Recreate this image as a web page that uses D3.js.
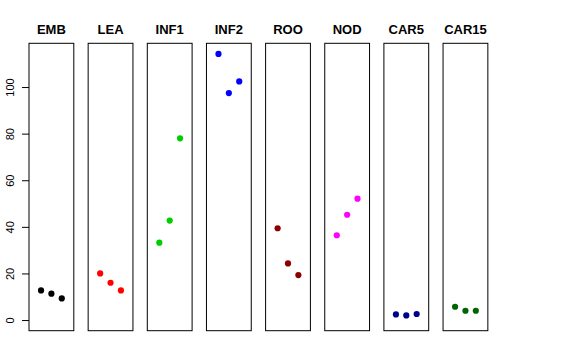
<!DOCTYPE html>
<html><head><meta charset="utf-8">
<script src="https://cdn.jsdelivr.net/npm/d3@7"></script>
<style>body{margin:0;background:#fff}svg{display:block}</style>
</head><body>
<script>
const categories = ["EMB","LEA","INF1","INF2","ROO","NOD","CAR5","CAR15"];
const colors = ["#000000","#FF0000","#00CD00","#0000FF","#8B0000","#FF00FF","#00008B","#006400"];
const emb = [12.7, 11.3, 9.3];
const lea = [20.0, 16.0, 12.7];
const inf1 = [33.2, 42.7, 78.0];
const inf2 = [114.2, 97.4, 102.4];
const roo = [39.4, 24.3, 19.3];
const nod = [36.4, 45.2, 52.1];
const car5 = [2.4, 2.0, 2.6];
const car15 = [5.7, 4.0, 4.0];
const seriesValues = [emb, lea, inf1, inf2, roo, nod, car5, car15];
const yTicks = [0, 20, 40, 60, 80, 100];

(function(){
const W = 576, H = 360;
const svg = d3.select("body").append("svg").attr("width", W).attr("height", H);
const font = "Liberation Sans, Arial, Helvetica, sans-serif";

const pTop = 43.3, pBottom = 330.7;
const panelW = 44.8, stride = 59.15, left0 = 29;
const ymax = d3.max(seriesValues.flat());
const ext = 0.04 * ymax;
const y = d3.scaleLinear().domain([0 - ext, ymax + ext]).range([pBottom, pTop]);
const x = d3.scaleLinear().domain([-0.16, 4.16]).range([0, panelW]);

categories.forEach((cat, i) => {
  const gx = left0 + i * stride;
  const g = svg.append("g").attr("transform", `translate(${gx},0)`);
  g.selectAll("circle").data(seriesValues[i]).enter().append("circle")
    .attr("cx", (d, j) => x(j + 1)).attr("cy", d => y(d)).attr("r", 3.1)
    .attr("fill", colors[i]);
  g.append("rect").attr("x", 0).attr("y", pTop).attr("width", panelW).attr("height", pBottom - pTop)
    .attr("fill", "none").attr("stroke", "#000").attr("stroke-width", 1);
  g.append("text").attr("x", panelW / 2).attr("y", 34).attr("text-anchor", "middle")
    .attr("font-family", font).attr("font-weight", "bold").attr("font-size", 13).text(cat);
  if (i === 0) {
    const ax = d3.axisLeft(y).tickValues(yTicks).tickSize(7).tickFormat(d3.format("d"));
    const ag = g.append("g").call(ax);
    ag.select(".domain").remove();
    ag.selectAll("line").attr("stroke", "#000");
    ag.selectAll("text").attr("font-family", font).attr("font-size", 11).attr("fill", "#000")
      .attr("text-anchor", "middle").attr("dy", 0).attr("x", 0).attr("y", 0)
      .attr("transform", "translate(-15.5,0) rotate(-90)");
  }
});
})();
</script>
</body></html>
